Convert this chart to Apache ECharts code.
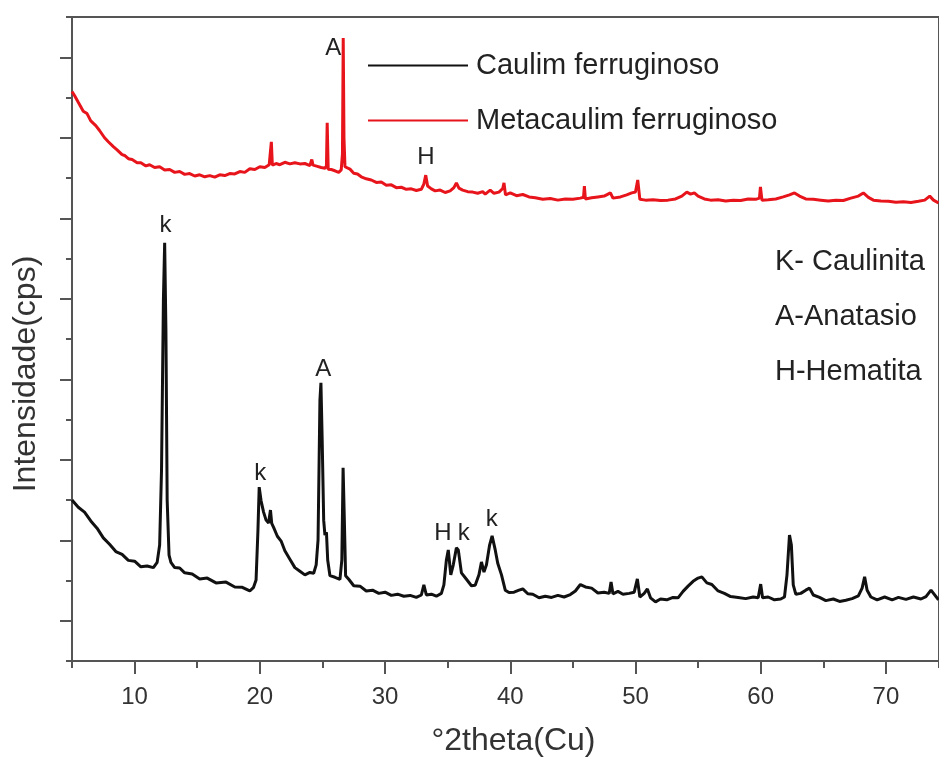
<!DOCTYPE html>
<html>
    <head>
        <meta charset="UTF-8">
        <title>Caulim x Metacaulim - DRX</title>
        <script src="https://cdn.jsdelivr.net/npm/echarts@6/dist/echarts.min.js"></script>
        <style>
            body,html{margin:0;padding:0;width:100%;height:100%;background:#fff;}
            #drx{width:939px;height:763px;}
        </style>
    </head>
    <body>
        <div id="drx"></div>
        <script type="text/javascript">
          // leitura aproximada do difratograma: [°2theta, cps]
          var caulim = [[5.0,400],[5.5,382],[6.0,370],[6.5,348],[7.0,330],[7.5,306],[8.0,290],[8.5,272],[9.0,265],[9.5,250],[10.0,248],[10.5,234],[11.0,236],[11.5,232],[11.8,245],[12.0,288],[12.15,475],[12.3,897],[12.4,1039],[12.5,822],[12.6,400],[12.75,263],[12.9,245],[13.2,232],[13.6,231],[14.0,219],[14.6,216],[15.2,204],[15.8,206],[16.5,194],[17.3,196],[18.0,184],[18.6,183],[19.2,174],[19.5,183],[19.7,201],[19.85,325],[19.95,432],[20.1,398],[20.3,370],[20.5,350],[20.7,343],[20.85,375],[20.95,342],[21.1,332],[21.4,310],[21.7,298],[22.0,274],[22.4,253],[22.8,232],[23.2,223],[23.6,214],[24.0,220],[24.3,218],[24.5,239],[24.65,301],[24.8,648],[24.88,691],[24.98,549],[25.1,350],[25.2,313],[25.32,320],[25.42,251],[25.6,212],[26.0,208],[26.4,203],[26.55,251],[26.65,480],[26.75,350],[26.85,212],[27.1,203],[27.5,187],[28.0,186],[28.5,174],[29.0,176],[29.5,168],[30.0,171],[30.5,163],[31.0,166],[31.5,161],[32.0,163],[32.5,158],[32.9,164],[33.1,189],[33.3,164],[33.7,166],[34.1,161],[34.5,168],[34.7,189],[34.9,251],[35.05,276],[35.25,214],[35.45,239],[35.7,281],[35.85,276],[36.1,219],[36.5,203],[36.9,187],[37.2,188],[37.5,214],[37.7,246],[37.9,221],[38.1,239],[38.35,288],[38.55,311],[38.8,276],[39.0,243],[39.3,214],[39.6,176],[39.9,170],[40.3,171],[40.7,176],[41.0,179],[41.4,167],[41.8,166],[42.3,157],[42.8,161],[43.3,158],[43.8,163],[44.3,159],[44.8,165],[45.2,174],[45.6,190],[46.0,184],[46.5,181],[47.0,169],[47.5,171],[47.9,168],[48.05,196],[48.2,167],[48.6,173],[49.0,166],[49.5,168],[49.9,171],[50.15,204],[50.35,159],[50.7,168],[50.95,179],[51.2,157],[51.6,147],[52.0,154],[52.5,152],[53.0,158],[53.4,157],[53.8,173],[54.2,186],[54.6,198],[55.0,206],[55.3,209],[55.7,194],[56.1,190],[56.6,174],[57.1,168],[57.6,160],[58.2,158],[58.8,155],[59.4,159],[59.8,157],[60.0,191],[60.15,157],[60.6,159],[61.1,152],[61.6,154],[61.9,159],[62.1,214],[62.3,313],[62.45,288],[62.6,189],[62.8,166],[63.2,168],[63.6,176],[63.9,181],[64.2,164],[64.7,158],[65.2,150],[65.8,154],[66.3,148],[66.8,151],[67.3,155],[67.8,162],[68.1,181],[68.3,209],[68.5,176],[68.8,159],[69.3,152],[69.9,159],[70.5,152],[71.0,158],[71.6,153],[72.2,159],[72.8,154],[73.2,160],[73.6,176],[74.2,152]];

          var metacaulim = [[5.0,1415],[5.2,1405],[5.5,1388],[5.9,1366],[6.2,1360],[6.5,1342],[6.9,1330],[7.2,1318],[7.6,1300],[7.9,1290],[8.3,1278],[8.6,1270],[9.0,1258],[9.2,1256],[9.5,1248],[9.8,1246],[10.2,1238],[10.5,1238],[10.9,1230],[11.2,1233],[11.6,1226],[12.0,1228],[12.4,1220],[12.8,1221],[13.2,1214],[13.6,1216],[14.0,1209],[14.4,1211],[14.8,1205],[15.2,1208],[15.6,1203],[16.0,1206],[16.4,1202],[16.8,1208],[17.2,1206],[17.6,1211],[18.0,1210],[18.4,1216],[18.8,1214],[19.2,1223],[19.6,1221],[20.0,1228],[20.4,1226],[20.75,1233],[20.85,1236],[20.92,1290],[21.0,1232],[21.3,1236],[21.6,1233],[22.0,1239],[22.4,1235],[22.8,1238],[23.2,1235],[23.6,1236],[24.0,1231],[24.15,1246],[24.25,1232],[24.6,1229],[24.9,1226],[25.2,1224],[25.32,1230],[25.38,1337],[25.46,1222],[25.7,1221],[26.0,1218],[26.3,1214],[26.5,1220],[26.6,1260],[26.66,1548],[26.72,1300],[26.8,1228],[26.95,1232],[27.2,1222],[27.5,1212],[27.8,1210],[28.1,1203],[28.5,1198],[28.9,1195],[29.3,1189],[29.7,1190],[30.1,1182],[30.5,1183],[30.9,1176],[31.3,1177],[31.7,1172],[32.1,1173],[32.5,1169],[32.9,1172],[33.1,1185],[33.25,1207],[33.4,1180],[33.7,1173],[34.0,1168],[34.4,1170],[34.8,1164],[35.2,1168],[35.5,1176],[35.7,1188],[35.9,1175],[36.2,1170],[36.6,1166],[37.0,1165],[37.4,1162],[37.8,1166],[38.0,1160],[38.4,1170],[38.7,1162],[39.1,1165],[39.4,1174],[39.5,1188],[39.62,1158],[40.0,1163],[40.5,1156],[41.0,1159],[41.5,1153],[42.0,1151],[42.6,1147],[43.2,1149],[43.8,1145],[44.4,1148],[45.0,1147],[45.6,1150],[45.85,1152],[45.92,1180],[46.0,1148],[46.5,1151],[47.0,1153],[47.5,1155],[48.0,1163],[48.2,1150],[48.8,1153],[49.3,1158],[49.7,1163],[50.0,1165],[50.18,1195],[50.35,1147],[50.8,1145],[51.4,1146],[52.0,1144],[52.6,1145],[53.2,1148],[53.7,1155],[54.1,1165],[54.4,1160],[54.7,1163],[55.0,1155],[55.5,1148],[56.0,1145],[56.6,1146],[57.2,1143],[57.8,1145],[58.4,1144],[59.0,1148],[59.6,1147],[59.9,1150],[59.98,1178],[60.1,1145],[60.6,1146],[61.2,1148],[61.8,1153],[62.3,1158],[62.7,1163],[63.1,1155],[63.6,1148],[64.2,1147],[64.8,1145],[65.4,1143],[66.0,1145],[66.6,1144],[67.2,1150],[67.8,1155],[68.2,1163],[68.6,1152],[69.0,1145],[69.6,1143],[70.2,1142],[70.8,1140],[71.4,1141],[72.0,1139],[72.6,1142],[73.1,1145],[73.5,1155],[73.8,1145],[74.2,1138]];

          var xLabels = [10, 20, 30, 40, 50, 60, 70];
          var yMajor = [100, 300, 500, 700, 900, 1100, 1300, 1500];

          // letras dos picos: [°2theta, cps, texto]
          var picosCaulim = [[12.47,1083,'k'],[20.04,467,'k'],[25.06,725,'A'],[34.62,318,'H'],[36.29,318,'k'],[38.53,353,'k']];
          var picosMeta = [[25.86,1523,'A'],[33.27,1252,'H']];

          var fonte = 'Liberation Sans, Arial, sans-serif';

          function marcas(lista){
              return lista.map(function(p){
                  return {coord:[p[0], p[1]], value:p[2]};
              });
          }

          var drxChart = echarts.init(document.getElementById('drx'));
          var drxOption = {
              animation: false,
              grid: {
                  left: 72, right: -2, top: 17, bottom: 102,
                  show: true, borderColor: '#555', borderWidth: 2
              },
              legend: {
                  orient: 'vertical',
                  left: 363, top: 46,
                  icon: 'rect',
                  itemWidth: 100, itemHeight: 2,
                  itemGap: 26,
                  textStyle: {fontSize: 29, color: '#222', fontFamily: fonte, padding: [0, 0, 0, 3]},
                  data: ['Caulim ferruginoso', 'Metacaulim ferruginoso']
              },
              xAxis: [
                  {
                      type: 'value', min: 5, max: 74.24, interval: 5,
                      name: '°2theta(Cu)', nameLocation: 'middle', nameGap: 64,
                      nameTextStyle: {fontSize: 32, color: '#333', fontFamily: fonte, padding: [0, 0, 0, 16]},
                      axisLine: {lineStyle: {color: '#555', width: 2}},
                      axisTick: {length: 7, lineStyle: {color: '#555', width: 2}},
                      axisLabel: {show: false},
                      splitLine: {show: false}
                  },
                  {
                      type: 'value', min: 5, max: 74.24, position: 'bottom',
                      axisLine: {show: false},
                      axisTick: {length: 13, customValues: xLabels, lineStyle: {color: '#555', width: 2}},
                      axisLabel: {customValues: xLabels, fontSize: 24, color: '#333', fontFamily: fonte, margin: 24},
                      splitLine: {show: false}
                  }
              ],
              yAxis: [
                  {
                      type: 'value', min: 0, max: 1600, interval: 100,
                      name: 'Intensidade(cps)', nameLocation: 'middle', nameGap: 30,
                      nameTextStyle: {fontSize: 32, color: '#333', fontFamily: fonte, padding: [0, 70, 0, 0]},
                      axisLine: {show: true, lineStyle: {color: '#555', width: 2}},
                      axisTick: {show: true, length: 6, lineStyle: {color: '#555', width: 2}},
                      axisLabel: {show: false},
                      splitLine: {show: false}
                  },
                  {
                      type: 'value', min: 0, max: 1600, position: 'left',
                      axisLine: {show: false},
                      axisTick: {show: true, length: 12, customValues: yMajor, lineStyle: {color: '#555', width: 2}},
                      axisLabel: {show: false},
                      splitLine: {show: false}
                  }
              ],
              series: [
                  {
                      name: 'Caulim ferruginoso',
                      type: 'line',
                      data: caulim,
                      symbol: 'none',
                      lineStyle: {color: '#111', width: 3},
                      itemStyle: {color: '#111'},
                      markPoint: {
                          symbolSize: 0,
                          label: {show: true, position: 'inside', formatter: '{c}', fontSize: 24, color: '#222', fontFamily: fonte},
                          data: marcas(picosCaulim)
                      }
                  },
                  {
                      name: 'Metacaulim ferruginoso',
                      type: 'line',
                      data: metacaulim,
                      symbol: 'none',
                      lineStyle: {color: '#e8141b', width: 3},
                      itemStyle: {color: '#e8141b'},
                      markPoint: {
                          symbolSize: 0,
                          label: {show: true, position: 'inside', formatter: '{c}', fontSize: 24, color: '#222', fontFamily: fonte},
                          data: marcas(picosMeta)
                      }
                  }
              ],
              graphic: [
                  {type: 'text', left: 775, top: 247, style: {text: 'K- Caulinita', fontSize: 29, fill: '#222', fontFamily: fonte}},
                  {type: 'text', left: 775, top: 302, style: {text: 'A-Anatasio', fontSize: 29, fill: '#222', fontFamily: fonte}},
                  {type: 'text', left: 775, top: 357, style: {text: 'H-Hematita', fontSize: 29, fill: '#222', fontFamily: fonte}}
              ]
          };
          drxChart.setOption(drxOption);
        </script>
    </body>
</html>
